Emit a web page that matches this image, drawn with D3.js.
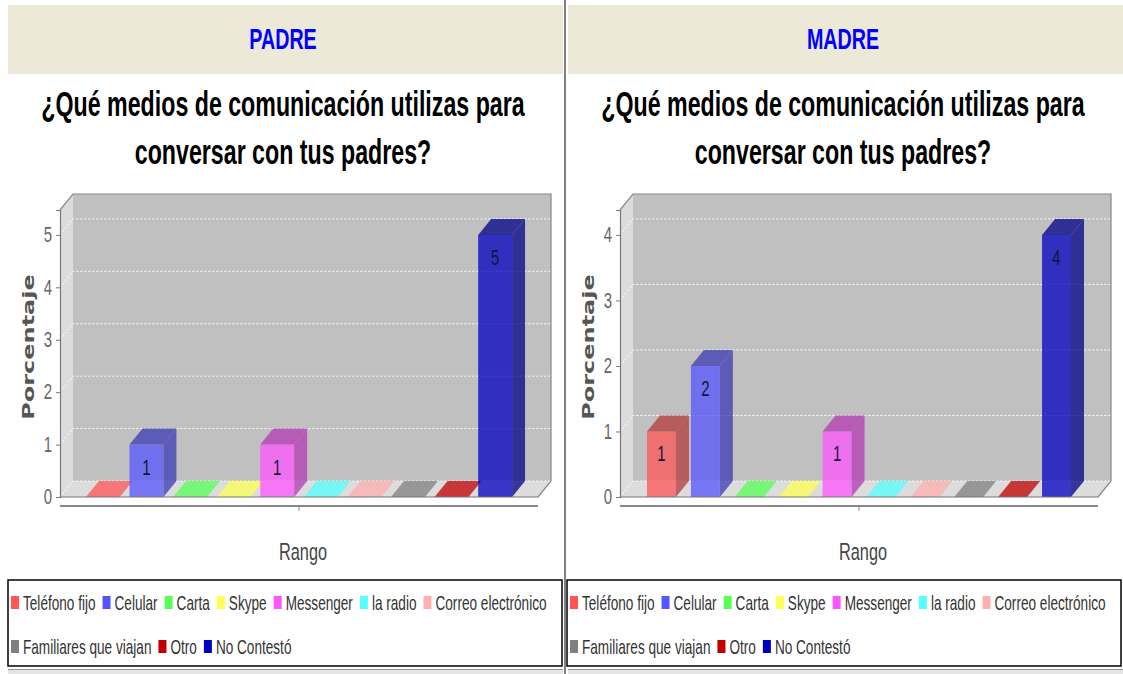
<!DOCTYPE html>
<html>
<head>
<meta charset="utf-8">
<script src="https://cdn.jsdelivr.net/npm/d3@7"></script>
<style>
body { margin: 0; background: #fff; }
svg { display: block; }
</style>
</head>
<body>
<script>
// data
var categories = ["Teléfono fijo", "Celular", "Carta", "Skype", "Messenger", "la radio",
                  "Correo electrónico", "Familiares que viajan", "Otro", "No Contestó"];
var padre = [0, 1, 0, 0, 1, 0, 0, 0, 0, 5];
var madre = [1, 2, 0, 0, 1, 0, 0, 0, 0, 4];
var seriesColors = ["#ff5555", "#5555ff", "#55ff55", "#ffff55", "#ff55ff", "#55ffff",
                    "#ffafaf", "#808080", "#c00000", "#0000c0"];
var panelNames = ["PADRE", "MADRE"];
var titleLines = ["¿Qué medios de comunicación utilizas para", "conversar con tus padres?"];
var yLabel = "Porcentaje",
    xLabel = "Rango";

var width = 1123,
    height = 674;

var svg = d3.select("body").append("svg")
    .attr("width", width)
    .attr("height", height);

var sy = 1.5;           // text in the picture is stretched vertically
var dx = 13, dy = 16;   // 3d depth offset
var font = "'Liberation Sans', Arial, sans-serif";

var panels = [
    {name: panelNames[0], values: padre, left: 0, padIn: 0.222, padOut: 0.595},
    {name: panelNames[1], values: madre, left: 560, padIn: 0.34, padOut: 0.615}
];

function label(g, x, y, txt, size, opts) {
    opts = opts || {};
    return g.append("text")
        .attr("transform", "translate(" + x + "," + y + ") scale(1," + (opts.sy || sy) + ")")
        .attr("text-anchor", opts.anchor || "middle")
        .style("font-family", opts.family || font)
        .style("font-size", size + "px")
        .style("font-weight", opts.bold ? "bold" : "normal")
        .attr("fill", opts.fill || "#000")
        .text(txt);
}

function poly(g, pts) {
    return g.append("path").attr("d", "M" + pts.map(function(p) { return p.join(","); }).join("L") + "Z");
}

function drawPanel(p) {
    var g = svg.append("g"),
        L = p.left,
        cx = 283 + L;

    // header band
    g.append("rect")
        .attr("x", 8 + L).attr("y", 5)
        .attr("width", 555).attr("height", 69)
        .attr("fill", "#ece9d8");
    label(g, cx, 49, p.name, 19.7, {bold: true, fill: "#0000ff"});

    // title
    label(g, cx, 116, titleLines[0], 23.2, {bold: true});
    label(g, cx, 164, titleLines[1], 23.2, {bold: true});

    // plot geometry
    var x0 = 60 + L, x1 = 538 + L,
        yTop = 210, yBase = 497;

    var x = d3.scaleBand()
        .domain(categories)
        .range([x0, x1])
        .paddingInner(p.padIn)
        .paddingOuter(p.padOut);

    var y = d3.scaleLinear()
        .domain([0, d3.max(p.values) * 1.095])
        .range([yBase, yTop]);

    // walls
    poly(g, [[x0 + dx, yTop - dy], [x1 + dx, yTop - dy], [x1 + dx, yBase - dy], [x0 + dx, yBase - dy]])
        .attr("fill", "#c0c0c0");
    poly(g, [[x0, yTop], [x0 + dx, yTop - dy], [x0 + dx, yBase - dy], [x0, yBase]])
        .attr("fill", "#dcdcdc");
    poly(g, [[x0, yBase], [x0 + dx, yBase - dy], [x1 + dx, yBase - dy], [x1, yBase]])
        .attr("fill", "#dcdcdc");

    // gridlines
    var ticks = y.ticks(5);
    g.append("g").selectAll("path")
        .data(ticks)
        .enter().append("path")
        .attr("d", function(d) {
            return "M" + x0 + "," + y(d) + "L" + (x0 + dx) + "," + (y(d) - dy) +
                   "L" + (x1 + dx) + "," + (y(d) - dy);
        })
        .attr("fill", "none")
        .attr("stroke", "#fff")
        .attr("stroke-width", 1)
        .attr("stroke-dasharray", "2,2");

    // outline
    g.append("path")
        .attr("d", "M" + x0 + "," + yTop + "L" + (x0 + dx) + "," + (yTop - dy) +
                   "L" + (x1 + dx) + "," + (yTop - dy) + "L" + (x1 + dx) + "," + (yBase - dy) +
                   "L" + x1 + "," + yBase)
        .attr("fill", "none")
        .attr("stroke", "#888")
        .attr("stroke-width", 1.2);

    // bars
    var bars = g.append("g").selectAll("g")
        .data(p.values)
        .enter().append("g")
        .attr("fill-opacity", 0.75);

    bars.each(function(v, i) {
        var b = d3.select(this),
            c = seriesColors[i],
            dark = d3.color(c).darker(1).formatHex(),
            bx = x(categories[i]),
            bw = x.bandwidth(),
            yv = y(v);
        if (v === 0) {
            poly(b, [[bx, yBase], [bx + dx, yBase - dy], [bx + bw + dx, yBase - dy], [bx + bw, yBase]])
                .attr("fill", c);
            return;
        }
        b.append("rect")
            .attr("x", bx).attr("y", yv)
            .attr("width", bw).attr("height", yBase - yv)
            .attr("fill", c);
        poly(b, [[bx, yv], [bx + dx, yv - dy], [bx + bw + dx, yv - dy], [bx + bw, yv]])
            .attr("fill", dark);
        poly(b, [[bx + bw, yv], [bx + bw + dx, yv - dy], [bx + bw + dx, yBase - dy], [bx + bw, yBase]])
            .attr("fill", dark);
        label(g, bx + bw / 2, yv + 30, v, 15, {fill: "#14143a"});
    });

    // front floor edge
    g.append("line")
        .attr("x1", x0).attr("x2", x1)
        .attr("y1", yBase).attr("y2", yBase)
        .attr("stroke", "#777").attr("stroke-width", 1.2);

    // y axis
    var yAxis = g.append("g")
        .attr("transform", "translate(" + x0 + ",0)")
        .call(d3.axisLeft(y).ticks(5).tickFormat(d3.format("d")).tickSize(4).tickPadding(4));
    yAxis.select(".domain").attr("stroke", "#777").attr("stroke-width", 1.2);
    yAxis.selectAll(".tick line").attr("stroke", "#777");
    yAxis.selectAll(".tick text")
        .attr("transform", "scale(1," + sy + ")")
        .attr("dy", "0.3em")
        .style("font-family", font)
        .style("font-size", "15px")
        .attr("fill", "#666");

    // x axis
    var xc = (x0 + x1) / 2;
    g.append("line")
        .attr("x1", x0).attr("x2", x1)
        .attr("y1", 506).attr("y2", 506)
        .attr("stroke", "#888").attr("stroke-width", 2);
    g.append("line")
        .attr("x1", xc).attr("x2", xc)
        .attr("y1", 507).attr("y2", 511)
        .attr("stroke", "#888");

    label(g, xc + 4, 560, xLabel, 16.3, {fill: "#444"});

    g.append("text")
        .attr("transform", "translate(" + (34 + L) + ",347) rotate(-90) scale(" + sy + ",1)")
        .attr("text-anchor", "middle")
        .style("font-family", "'DejaVu Sans', Verdana, sans-serif")
        .style("font-size", "16px")
        .style("font-weight", "bold")
        .attr("fill", "#555")
        .text(yLabel);

    // legend
    var bxL = 8 + L - (L ? 1 : 0),
        bw = 554;
    var legend = g.append("g");
    legend.append("rect")
        .attr("x", bxL).attr("y", 580)
        .attr("width", bw).attr("height", 86)
        .attr("fill", "#fff")
        .attr("stroke", "#000")
        .attr("stroke-width", 1.5);

    var lx = bxL + 3, ly = 603;
    categories.forEach(function(c, i) {
        var item = legend.append("g");
        var t = label(item, 12, 7, c, 13.6, {anchor: "start", fill: "#333"});
        var w = t.node().getComputedTextLength();
        if (lx + 12 + w > bxL + bw - 3) {
            lx = bxL + 3;
            ly += 44;
        }
        item.attr("transform", "translate(" + lx + "," + ly + ")");
        item.append("rect")
            .attr("x", 0).attr("y", -7)
            .attr("width", 8).attr("height", 13)
            .attr("fill", seriesColors[i]);
        lx += 12 + w + 7;
    });

    // bottom strip
    g.append("rect")
        .attr("x", 8 + L).attr("y", 669)
        .attr("width", 555).attr("height", 5)
        .attr("fill", "#e4e4e4");
    g.append("line")
        .attr("x1", 8 + L).attr("x2", 563 + L)
        .attr("y1", 669.5).attr("y2", 669.5)
        .attr("stroke", "#999");
}

panels.forEach(drawPanel);

// panel separator
svg.append("line")
    .attr("x1", 565).attr("x2", 565)
    .attr("y1", 0).attr("y2", height)
    .attr("stroke", "#808080")
    .attr("stroke-width", 2);
</script>
</body>
</html>
